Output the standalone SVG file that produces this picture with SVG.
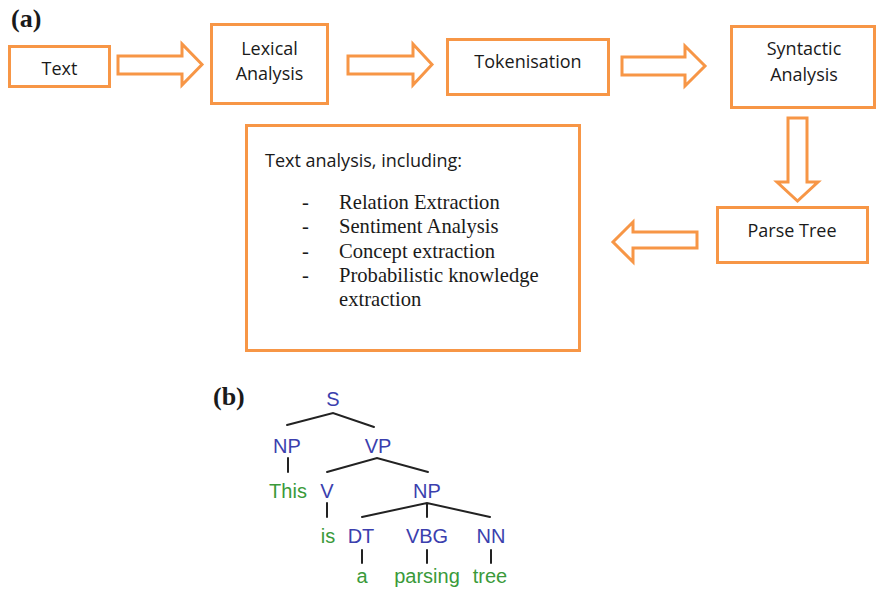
<svg xmlns="http://www.w3.org/2000/svg" width="878" height="591" viewBox="0 0 878 591">
  <style>
    .box { fill: #ffffff; stroke: #F79646; stroke-width: 3; }
    .arrow { fill: #ffffff; stroke: #F79646; stroke-width: 3; stroke-linejoin: miter; }
    .lbl { font-family: "Open Sans", "Noto Sans", sans-serif; font-size: 18px; fill: #1a1a1a; text-anchor: middle; }
    .body { font-family: "Open Sans", "Noto Sans", sans-serif; font-size: 18px; fill: #1a1a1a; }
    .item { font-family: "Liberation Serif", "Times New Roman", serif; font-size: 20.6px; fill: #1a1a1a; }
    .panel { font-family: "Liberation Serif", "Times New Roman", serif; font-size: 26px; font-weight: bold; fill: #1a1a1a; }
    .tag { font-family: "Liberation Sans", Arial, sans-serif; font-size: 20px; fill: #3b3fae; text-anchor: middle; }
    .word { font-family: "Liberation Sans", Arial, sans-serif; font-size: 20px; fill: #3a9a3a; text-anchor: middle; }
    .edge { stroke: #222222; stroke-width: 2; fill: none; stroke-linecap: round; }
  </style>

  <!-- panel labels -->
  <text class="panel" x="11" y="27">(a)</text>
  <text class="panel" x="213" y="405">(b)</text>

  <!-- pipeline connectors (block arrows) -->
  <g id="connectors">
    <path class="arrow" d="M118,56 H182 V44 L202,64.5 L182,85 V74 H118 Z"/>
    <path class="arrow" d="M348,56 H413 V44 L432,64.5 L413,85 V74 H348 Z"/>
    <path class="arrow" d="M622,57 H685 V46 L705,66 L685,86 V75 H622 Z"/>
    <path class="arrow" d="M788,118 V182 H777 L797.5,201 L818,182 H807 V118 Z"/>
    <path class="arrow" d="M697,232 H633 V222 L613,242 L633,262 V248 H697 Z"/>
  </g>

  <!-- pipeline nodes -->
  <g id="node-text">
    <rect class="box" x="9.5" y="46.5" width="100" height="40"/>
    <text class="lbl" x="59.5" y="75">Text</text>
  </g>
  <g id="node-lexical">
    <rect class="box" x="211.5" y="24.5" width="116" height="79"/>
    <text class="lbl" x="269.5" y="55">Lexical</text>
    <text class="lbl" x="269.5" y="80">Analysis</text>
  </g>
  <g id="node-tokenisation">
    <rect class="box" x="447.5" y="39.5" width="161" height="55"/>
    <text class="lbl" x="528" y="68">Tokenisation</text>
  </g>
  <g id="node-syntactic">
    <rect class="box" x="731.5" y="26.5" width="143" height="81"/>
    <text class="lbl" x="804" y="55">Syntactic</text>
    <text class="lbl" x="804" y="81">Analysis</text>
  </g>
  <g id="node-parse-tree">
    <rect class="box" x="717.5" y="207.5" width="150" height="55"/>
    <text class="lbl" x="792" y="237">Parse Tree</text>
  </g>
  <g id="node-text-analysis">
    <rect class="box" x="246.5" y="125.5" width="333" height="225"/>
    <text class="body" x="265" y="167">Text analysis, including:</text>
    <text class="item" x="302" y="209">-</text>
    <text class="item" x="339" y="209">Relation Extraction</text>
    <text class="item" x="302" y="233">-</text>
    <text class="item" x="339" y="233">Sentiment Analysis</text>
    <text class="item" x="302" y="258">-</text>
    <text class="item" x="339" y="258">Concept extraction</text>
    <text class="item" x="302" y="282">-</text>
    <text class="item" x="339" y="282">Probabilistic knowledge</text>
    <text class="item" x="339" y="306">extraction</text>
  </g>

  <!-- parse tree (b) -->
  <g id="tree-edges">
    <path class="edge" d="M287,425 L333,413 L374,427"/>
    <path class="edge" d="M288,458 V472"/>
    <path class="edge" d="M327,472 L377,458 L428,472"/>
    <path class="edge" d="M327,503 V517"/>
    <path class="edge" d="M362,517 L427,503 L490,517 M427,503 V517"/>
    <path class="edge" d="M362,550 V563 M427,550 V563 M491,550 V563"/>
  </g>
  <g id="tree-nodes">
    <text class="tag" x="333" y="406">S</text>
    <text class="tag" x="287" y="453">NP</text>
    <text class="tag" x="378" y="453">VP</text>
    <text class="word" x="288" y="498">This</text>
    <text class="tag" x="327" y="498">V</text>
    <text class="tag" x="427" y="498">NP</text>
    <text class="word" x="328" y="543">is</text>
    <text class="tag" x="361" y="543">DT</text>
    <text class="tag" x="427" y="543">VBG</text>
    <text class="tag" x="491" y="543">NN</text>
    <text class="word" x="362" y="583">a</text>
    <text class="word" x="427" y="583">parsing</text>
    <text class="word" x="490" y="583">tree</text>
  </g>
</svg>
